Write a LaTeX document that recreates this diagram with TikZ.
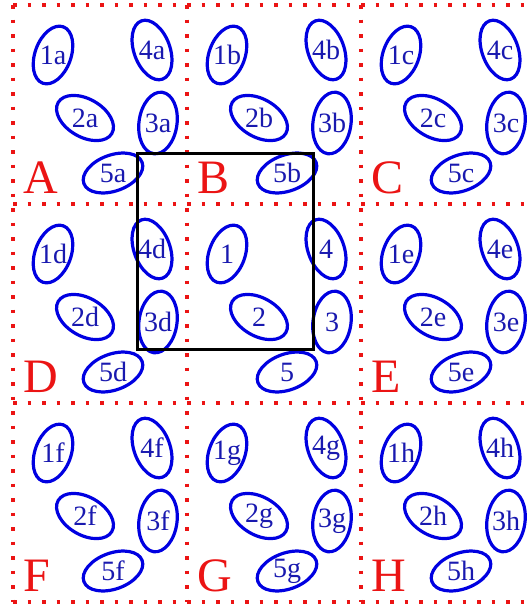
\documentclass[tikz,border=0pt]{standalone}
\usepackage{fontspec}
\setmainfont{Liberation Serif}
\definecolor{ringblue}{RGB}{0,0,225}
\definecolor{labblue}{RGB}{25,25,175}
\definecolor{gridred}{RGB}{235,20,20}
\tikzset{
  gridline/.style={gridred, line width=3.5pt, dash pattern=on 3.5pt off 11pt},
  ring/.style={ringblue, line width=3.2pt},
  tag/.style={labblue, font=\fontsize{28}{28}\selectfont, inner sep=0pt},
  cellname/.style={gridred, font=\fontsize{48}{48}\selectfont, inner sep=0pt, anchor=base west},
}
\begin{document}
\begin{tikzpicture}[x=1pt, y=-1pt]
  \useasboundingbox (0,0) rectangle (528,611);
  % red dotted cell grid
  \foreach \gy in {5,204,403,602} \draw[gridline] (13,\gy) -- (528,\gy);
  \foreach \gx in {13,187,361} \draw[gridline] (\gx,5) -- (\gx,602);
  % five tilted ellipses in every cell
  \foreach \cx/\cy/\s in {13/5/a, 187/5/b, 361/5/c, 13/204/d, 187/204/, 361/204/e, 13/403/f, 187/403/g, 361/403/h} {
    \foreach \n/\dx/\dy/\ang/\rx/\ry in {1/40/50/-20/18/30, 4/139/45/20/18/31, 2/72/113/-30/31/19, 3/145/118/-8/19/31, 5/100/168/20/31/18} {
      \node[tag] (t\n\s) at (\cx+\dx,\cy+\dy) {\n\s};
      \draw[ring, rotate around={\ang:(t\n\s)}] (t\n\s) ellipse [x radius=\rx, y radius=\ry];
    }
  }
  % cell letters
  \foreach \cx/\cy/\L in {13/5/A, 187/5/B, 361/5/C, 13/204/D, 361/204/E, 13/403/F, 187/403/G, 361/403/H}
    \node[cellname] (cell\L) at (\cx+10,\cy+188) {\L};
  % black window
  \draw[line width=3pt] (137,153) rectangle (313,349);
\end{tikzpicture}
\end{document}
